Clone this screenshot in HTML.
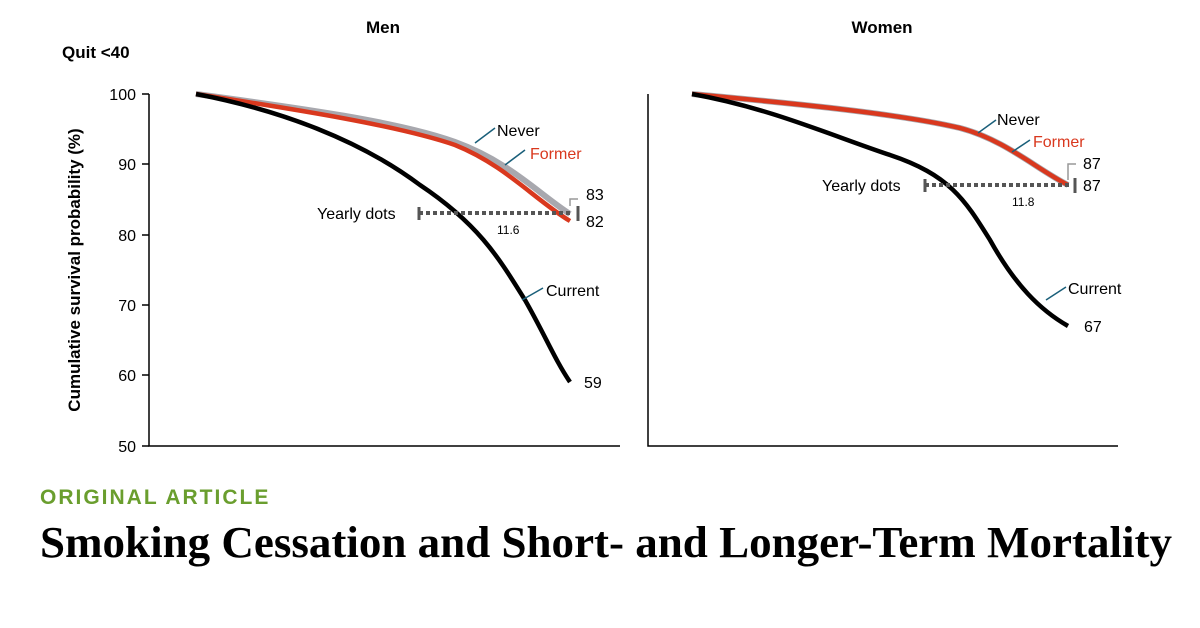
<!DOCTYPE html>
<html><head><meta charset="utf-8"><style>
body{margin:0;background:#fff;}
svg{display:block;font-family:"Liberation Sans",sans-serif;}
</style></head><body>
<svg width="1200" height="628" viewBox="0 0 1200 628">
<text x="383" y="33" font-size="17" font-weight="bold" text-anchor="middle">Men</text>
<text x="882" y="33" font-size="17" font-weight="bold" text-anchor="middle">Women</text>
<text x="62" y="58" font-size="17" font-weight="bold">Quit &lt;40</text>
<text transform="translate(80,270) rotate(-90)" font-size="17" font-weight="bold" text-anchor="middle">Cumulative survival probability (%)</text>
<!-- men axes -->
<g stroke="#000" stroke-width="1.5" fill="none">
<path d="M149,94 V446 H620"/>
<path d="M142,94H149M142,164H149M142,235H149M142,305H149M142,375H149M142,446H149"/>
<path d="M648,94 V446 H1118"/>
</g>
<g font-size="16" text-anchor="end">
<text x="136" y="100">100</text><text x="136" y="170">90</text><text x="136" y="241">80</text>
<text x="136" y="311">70</text><text x="136" y="381">60</text><text x="136" y="452">50</text>
</g>
<!-- men series -->
<path d="M196,94 C300,108 400,122 455,142 C510,162 540,195 570,214" stroke="#a8a8ae" stroke-width="6" fill="none"/>
<path d="M196,94 C300,110 400,126 455,145 C505,165 535,200 570,221" stroke="#d9381e" stroke-width="4.5" fill="none"/>
<path d="M196,94 C280,110 360,140 420,185 C480,225 500,260 525,300 C545,335 555,360 570,382" stroke="#000" stroke-width="4.5" fill="none"/>
<path d="M419,213 H572" stroke="#555" stroke-width="4" stroke-dasharray="4,3" fill="none"/>
<path d="M419,207V220M578,206V221" stroke="#555" stroke-width="3"/>
<path d="M570,206 V199 H578" stroke="#999" stroke-width="1.5" fill="none"/>
<path d="M475,143 L495,128" stroke="#1a5f7a" stroke-width="1.5"/>
<path d="M505,165 L525,150" stroke="#1a5f7a" stroke-width="1.5"/>
<path d="M522,300 L543,288" stroke="#1a5f7a" stroke-width="1.5"/>
<g font-size="16">
<text x="497" y="136">Never</text>
<text x="530" y="159" fill="#d9381e">Former</text>
<text x="546" y="296">Current</text>
<text x="586" y="200">83</text><text x="586" y="227">82</text>
<text x="584" y="388">59</text>
<text x="317" y="219">Yearly dots</text>
<text x="497" y="234" font-size="12">11.6</text>
</g>
<!-- women series -->
<path d="M692,94 C800,104 900,114 960,128 C1005,140 1035,168 1068,185" stroke="#a8a8ae" stroke-width="6" fill="none"/>
<path d="M692,94 C800,104 900,114 960,128 C1005,140 1035,168 1068,185" stroke="#d9381e" stroke-width="4.5" fill="none"/>
<path d="M692,94 C770,108 830,135 890,155 C950,175 965,200 990,240 C1015,285 1040,310 1068,326" stroke="#000" stroke-width="4.5" fill="none"/>
<path d="M925,185 H1070" stroke="#555" stroke-width="4" stroke-dasharray="4,3" fill="none"/>
<path d="M925,179V192M1075,178V193" stroke="#555" stroke-width="3"/>
<path d="M1068,180 V164 H1076" stroke="#999" stroke-width="1.5" fill="none"/>
<path d="M978,133 L996,120" stroke="#1a5f7a" stroke-width="1.5"/>
<path d="M1012,152 L1030,140" stroke="#1a5f7a" stroke-width="1.5"/>
<path d="M1046,300 L1066,287" stroke="#1a5f7a" stroke-width="1.5"/>
<g font-size="16">
<text x="997" y="125">Never</text>
<text x="1033" y="147" fill="#d9381e">Former</text>
<text x="1068" y="294">Current</text>
<text x="1083" y="169">87</text><text x="1083" y="191">87</text>
<text x="1084" y="332">67</text>
<text x="822" y="191">Yearly dots</text>
<text x="1012" y="206" font-size="12">11.8</text>
</g>
<text x="40" y="504" font-size="21" font-weight="bold" fill="#6a9e2e" letter-spacing="2">ORIGINAL ARTICLE</text>
<text x="40" y="557" font-family="Liberation Serif,serif" font-size="44" font-weight="bold" textLength="1132" lengthAdjust="spacingAndGlyphs">Smoking Cessation and Short- and Longer-Term Mortality</text>
</svg>
</body></html>
